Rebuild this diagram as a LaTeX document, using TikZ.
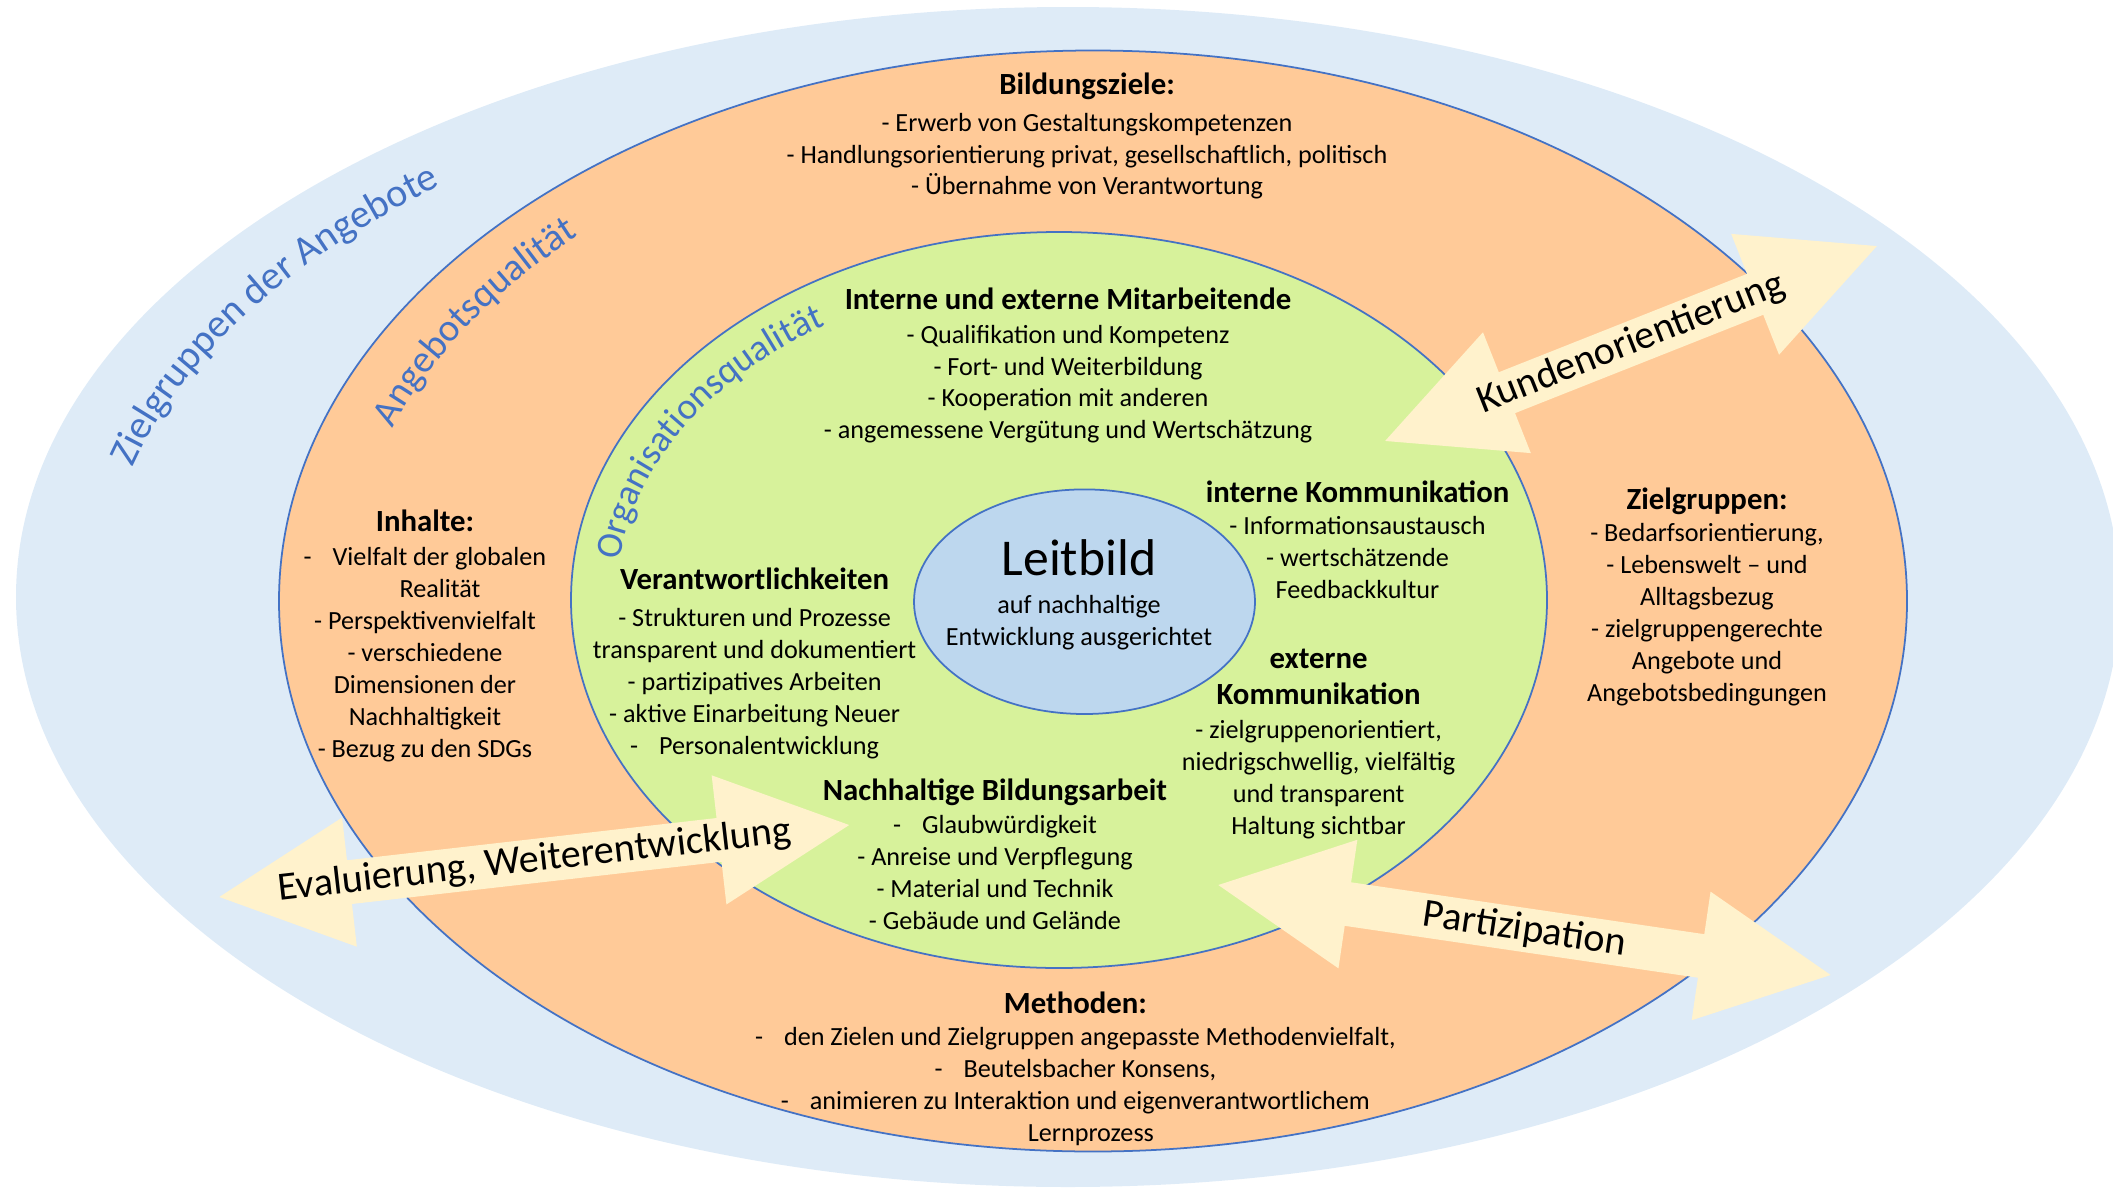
\documentclass[tikz,border=0pt]{standalone}
\usepackage{fontspec}
\setmainfont{Carlito}
\usepackage{xcolor}
\usepackage{tikz}
\usetikzlibrary{decorations.text}

\definecolor{zielblue}{HTML}{DEEBF7}
\definecolor{angebotorange}{HTML}{FFCA98}
\definecolor{orgagreen}{HTML}{D7F29B}
\definecolor{leitblue}{HTML}{BDD7EE}
\definecolor{rimblue}{HTML}{4472C4}
\definecolor{arrowcream}{HTML}{FFF2CC}

\newcommand{\blockhead}{\fontsize{8.76}{9.1}\selectfont\bfseries}
\newcommand{\ringfont}[1]{\fontsize{#1}{12}\selectfont\color{rimblue}}
\newcommand{\arrowfont}{\fontsize{11.4}{12}\selectfont}
\newcommand{\tabdash}{-\hspace{0.8em}}

\tikzset{
    block/.style = {font = \fontsize{7.45}{9.1}\selectfont, align = center, inner sep = 0pt},
    arrowlabel/.style = {font = \arrowfont, inner sep = 0pt},
    ring/.style = {draw = rimblue, line width = 0.5pt}
}

\begin{document}
\begin{tikzpicture}
        \useasboundingbox (0, 0) rectangle (21.13, 11.88);
        \clip (0, 0) rectangle (21.13, 11.88);

        % rings
        \fill [color = zielblue] (10.68, 5.91) ellipse (10.52 and 5.90);
        \filldraw [ring, fill = angebotorange] (10.93, 5.87) ellipse (8.14 and 5.505);
        \filldraw [ring, fill = orgagreen] (10.59, 5.88) ellipse (4.88 and 3.68);
        \filldraw [ring, fill = leitblue] (10.845, 5.863) ellipse (1.705 and 1.123);

        % ring labels
        \path [decorate, shift = {(10.93, 5.87)}, decoration = {text along path,
            text = {|\ringfont{11.4}|Zielgruppen der Angebote}}]
            (166:9.9 and 5.52) arc [start angle = 166, end angle = 112, x radius = 9.9, y radius = 5.52];
        \path [decorate, shift = {(10.93, 5.87)}, decoration = {text along path,
            text = {|\ringfont{11}|Angebotsqualität}}]
            (160:7.45 and 5.05) arc [start angle = 160, end angle = 118, x radius = 7.45, y radius = 5.05];
        \path [decorate, shift = {(10.59, 5.88)}, decoration = {text along path,
            text = {|\ringfont{10.6}|Organisationsqualität}}]
            (173:4.43 and 3.23) arc [start angle = 173, end angle = 105, x radius = 4.43, y radius = 3.23];

        % double arrows
        \begin{scope}[shift = {(16.31, 8.445)}, rotate = 21.62]
            \fill [arrowcream] (-2.645, 0) -- (-1.335, 0.65) -- (-1.335, 0.22) -- (1.335, 0.22)
                -- (1.335, 0.65) -- (2.645, 0) -- (1.335, -0.65) -- (1.335, -0.22)
                -- (-1.335, -0.22) -- (-1.335, -0.65) -- cycle;
            \node (kunden) [arrowlabel, rotate = 21.62] at (0, 0) {Kundenorientierung};
        \end{scope}
        \begin{scope}[shift = {(5.3425, 3.27)}, rotate = 6.52]
            \fill [arrowcream] (-3.17, 0) -- (-1.86, 0.65) -- (-1.86, 0.22) -- (1.86, 0.22)
                -- (1.86, 0.65) -- (3.17, 0) -- (1.86, -0.65) -- (1.86, -0.22)
                -- (-1.86, -0.22) -- (-1.86, -0.65) -- cycle;
            \node (evaluierung) [arrowlabel, rotate = 6.52] at (0, 0) {Evaluierung, Weiterentwicklung};
        \end{scope}
        \begin{scope}[shift = {(15.245, 2.58)}, rotate = -8.36]
            \fill [arrowcream] (-3.095, 0) -- (-1.785, 0.65) -- (-1.785, 0.22) -- (1.785, 0.22)
                -- (1.785, 0.65) -- (3.095, 0) -- (1.785, -0.65) -- (1.785, -0.22)
                -- (-1.785, -0.22) -- (-1.785, -0.65) -- cycle;
            \node (partizipation) [arrowlabel, rotate = -8.36] at (0, 0) {Partizipation};
        \end{scope}

        % text blocks
        \node (leitbild) [block] at (10.79, 5.933)
            {{\fontsize{14.7}{15}\selectfont Leitbild}\\[1.6pt]
            auf nachhaltige\\
            Entwicklung ausgerichtet};

        \node (bildungsziele) [block] at (10.87, 10.52)
            {{\blockhead Bildungsziele:}\\[1.4pt]
            - Erwerb von Gestaltungskompetenzen\\
            - Handlungsorientierung privat, gesellschaftlich, politisch\\
            - Übernahme von Verantwortung};

        \node (mitarbeitende) [block] at (10.68, 8.2225)
            {{\blockhead Interne und externe Mitarbeitende}\\[0.4pt]
            - Qualifikation und Kompetenz\\
            - Fort- und Weiterbildung\\
            - Kooperation mit anderen\\
            - angemessene Vergütung und Wertschätzung};

        \node (internkomm) [block] at (13.575, 6.482)
            {{\blockhead interne Kommunikation}\\[0.2pt]
            - Informationsaustausch\\
            - wertschätzende\\
            Feedbackkultur};

        \node (externkomm) [block] at (13.186, 4.4415)
            {{\blockhead externe}\\[1.2pt]
            {\blockhead Kommunikation}\\[0.4pt]
            - zielgruppenorientiert,\\
            niedrigschwellig, vielfältig\\
            und transparent\\
            Haltung sichtbar};

        \node (verantwortung) [block] at (7.546, 5.2475)
            {{\blockhead Verantwortlichkeiten}\\[1.4pt]
            - Strukturen und Prozesse\\
            transparent und dokumentiert\\
            - partizipatives Arbeiten\\
            - aktive Einarbeitung Neuer\\
            \tabdash Personalentwicklung};

        \node (bildungsarbeit) [block] at (9.95, 3.337)
            {{\blockhead Nachhaltige Bildungsarbeit}\\[0.2pt]
            \tabdash Glaubwürdigkeit\\
            - Anreise und Verpflegung\\
            - Material und Technik\\
            - Gebäude und Gelände};

        \node (inhalte) [block] at (4.25, 5.525)
            {{\blockhead Inhalte:}\\[0.6pt]
            \tabdash Vielfalt der globalen\\
            \hspace*{0.3cm}Realität\\
            - Perspektivenvielfalt\\
            - verschiedene\\
            Dimensionen der\\
            Nachhaltigkeit\\
            - Bezug zu den SDGs};

        \node (zielgruppen) [block] at (17.07, 5.91)
            {{\blockhead Zielgruppen:}\\[0.2pt]
            - Bedarfsorientierung,\\
            - Lebenswelt – und\\
            Alltagsbezug\\
            - zielgruppengerechte\\
            Angebote und\\
            Angebotsbedingungen};

        \node (methoden) [block] at (10.754, 1.195)
            {{\blockhead Methoden:}\\[0.1pt]
            \tabdash den Zielen und Zielgruppen angepasste Methodenvielfalt,\\
            \tabdash Beutelsbacher Konsens,\\
            \tabdash animieren zu Interaktion und eigenverantwortlichem\\
            \hspace*{0.31cm}Lernprozess};
\end{tikzpicture}
\end{document}
